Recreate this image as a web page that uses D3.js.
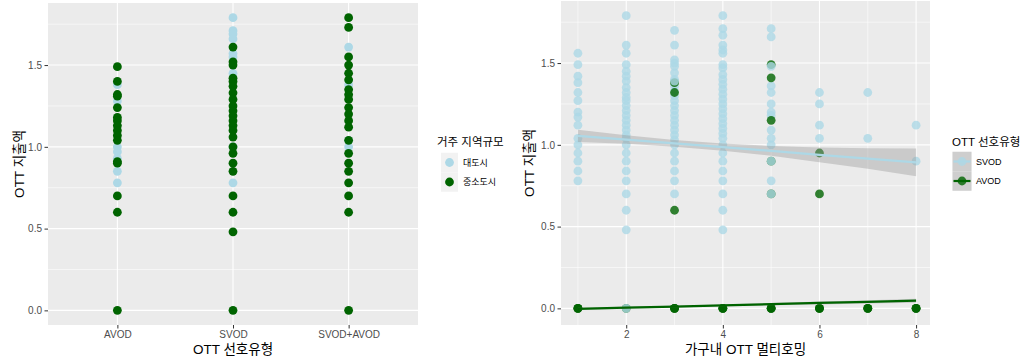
<!DOCTYPE html>
<html>
<head>
<meta charset="utf-8">
<script src="https://cdn.jsdelivr.net/npm/d3@7"></script>
<style>
  body { margin: 0; background: #fff; }
  svg { font-family: "Liberation Sans", Arial, "Noto Sans CJK KR", sans-serif; }
  .tick text { fill: #4d4d4d; font-size: 10px; }
  .tick line { stroke: #333; }
  .axis-title { font-size: 13.5px; fill: #000; }
  .legend-title { font-size: 11.5px; fill: #000; }
  .legend-label { font-size: 9px; fill: #000; }
</style>
</head>
<body>
<script>
// ---- left panel: OTT 선호유형 x 거주 지역규모 ----
const prefTypes = ["AVOD", "SVOD", "SVOD+AVOD"];
const regionGroups = ["대도시", "중소도시"];
const avodBig   = [1.38, 1.28, 1.0, 0.97, 0.93, 0.85, 0.78];
const avodSmall = [1.49, 1.40, 1.32, 1.31, 1.24, 1.18, 1.16, 1.13, 1.10, 1.07, 1.04, 0.91, 0.90, 0.70, 0.60, 0.0];
const svodBig   = [1.79, 1.71, 1.69, 1.66, 1.57, 1.55, 1.45, 1.0, 0.78];
const svodSmall = [1.61, 1.52, 1.50, 1.42, 1.40, 1.37, 1.33, 1.29, 1.25, 1.22, 1.19, 1.16, 1.13, 1.10, 1.06, 1.0, 0.96, 0.90, 0.85, 0.70, 0.60, 0.48, 0.0];
const bothBig   = [1.61, 1.38, 1.04, 1.0];
const bothSmall = [1.79, 1.73, 1.55, 1.50, 1.45, 1.41, 1.35, 1.32, 1.29, 1.24, 1.20, 1.16, 1.12, 1.04, 0.96, 0.90, 0.85, 0.78, 0.70, 0.60, 0.0];

// ---- right panel: 가구내 OTT 멀티호밍 (index + 1) ----
const svodByHoming = [
  [1.56, 1.49, 1.42, 1.38, 1.32, 1.27, 1.20, 1.17, 1.12, 1.04, 1.0, 0.95, 0.90, 0.84, 0.78],
  [1.79, 1.61, 1.56, 1.49, 1.45, 1.42, 1.39, 1.35, 1.32, 1.29, 1.27, 1.24, 1.21, 1.18, 1.15, 1.12, 1.09, 1.06, 1.04, 1.0, 0.95, 0.90, 0.84, 0.78, 0.70, 0.60, 0.48],
  [1.70, 1.61, 1.52, 1.50, 1.48, 1.44, 1.40, 1.36, 1.33, 1.30, 1.27, 1.24, 1.21, 1.18, 1.15, 1.12, 1.09, 1.06, 1.03, 1.0, 0.95, 0.90, 0.84, 0.78, 0.70],
  [1.79, 1.71, 1.67, 1.61, 1.58, 1.56, 1.49, 1.47, 1.43, 1.40, 1.37, 1.34, 1.31, 1.28, 1.25, 1.22, 1.19, 1.16, 1.13, 1.10, 1.07, 1.04, 1.0, 0.95, 0.90, 0.84, 0.78, 0.70, 0.60, 0.48],
  [1.71, 1.66, 1.36, 1.32, 1.25, 1.20, 1.18, 1.09, 1.04, 1.0, 0.78],
  [1.32, 1.25, 1.12, 1.04],
  [1.32, 1.04],
  [1.12, 0.90]
];
const avodByHoming = [
  [0.0, 0.0, 0.0], [0.0], [1.38, 1.32, 0.60, 0.0, 0.0, 0.0], [0.0, 0.0, 0.0],
  [1.49, 1.41, 1.15, 0.90, 0.70, 0.0, 0.0, 0.0], [0.95, 0.70, 0.0, 0.0, 0.0], [0.0, 0.0, 0.0], [0.0, 0.0, 0.0]
];
// SVOD rows that come after AVOD rows in the data (drawn on top)
const svodLateHoming = [2, 3, 5, 5, 5];
const svodLateValue  = [0.0, 1.39, 1.48, 0.90, 0.70];

// linear fits with 95% band
const fitX    = [1, 2, 3, 4, 5, 6, 7, 8];
const svodFit = [1.055, 1.032, 1.009, 0.986, 0.963, 0.939, 0.916, 0.893];
const svodLo  = [1.018, 1.006, 0.989, 0.964, 0.933, 0.894, 0.853, 0.808];
const svodHi  = [1.092, 1.058, 1.029, 1.008, 0.993, 0.984, 0.979, 0.978];
const avodFit = [-0.003, 0.004, 0.011, 0.018, 0.026, 0.033, 0.040, 0.047];
const avodLo  = [-0.010, -0.002, 0.006, 0.013, 0.019, 0.024, 0.030, 0.035];
const avodHi  = [0.004, 0.010, 0.016, 0.023, 0.033, 0.042, 0.050, 0.059];
const prefLegend = ["SVOD", "AVOD"];

const yTicks = [0, 0.5, 1.0, 1.5];
const yMinor = [0.25, 0.75, 1.25, 1.75];
const homingTicks = [2, 4, 6, 8];
const homingMinor = [1, 3, 5, 7];

const LIGHT = "#add8e6", DARK = "#006400";
const ALPHA = 0.8;
const W = 1023, H = 361;

const svg = d3.select("body").append("svg").attr("width", W).attr("height", H);

const yDomain = [-0.0895, 1.8795];

function panel(left, right, top, bottom, y) {
  const g = svg.append("g");
  g.append("rect").attr("x", left).attr("y", top)
    .attr("width", right - left).attr("height", bottom - top).attr("fill", "#ebebeb");
  g.selectAll(".ymin").data(yMinor).enter().append("line")
    .attr("x1", left).attr("x2", right).attr("y1", d => y(d)).attr("y2", d => y(d))
    .attr("stroke", "#fff").attr("stroke-width", 0.55);
  g.selectAll(".ymaj").data(yTicks).enter().append("line")
    .attr("x1", left).attr("x2", right).attr("y1", d => y(d)).attr("y2", d => y(d))
    .attr("stroke", "#fff").attr("stroke-width", 1.1);
  return g;
}

function yAxis(g, y, left) {
  const ax = g.append("g").attr("transform", `translate(${left},0)`)
    .call(d3.axisLeft(y).tickValues(yTicks).tickFormat(d3.format(".1f")).tickSize(3.5).tickPadding(2.5));
  ax.select(".domain").remove();
  ax.selectAll(".tick line").attr("stroke", "#333").attr("stroke-width", 1);
}

function yTitle(x, cy) {
  svg.append("text").attr("class", "axis-title")
    .attr("transform", `translate(${x},${cy}) rotate(-90)`)
    .attr("text-anchor", "middle").text("OTT 지출액");
}

// ---------- left ----------
{
  const L = 48, R = 418, T = 3, B = 325;
  const y = d3.scaleLinear().domain(yDomain).range([B, T]);
  const g = panel(L, R, T, B, y);
  const x = d3.scalePoint().domain(prefTypes).range([L, R]).padding(0.6);
  g.selectAll(".xmaj").data(prefTypes).enter().append("line")
    .attr("x1", d => x(d)).attr("x2", d => x(d)).attr("y1", T).attr("y2", B)
    .attr("stroke", "#fff").attr("stroke-width", 1.1);

  const big = [avodBig, svodBig, bothBig];
  const small = [avodSmall, svodSmall, bothSmall];
  const pts = [];
  big.forEach((arr, i) => arr.forEach(v => pts.push({ x: prefTypes[i], v, c: LIGHT })));
  small.forEach((arr, i) => arr.forEach(v => pts.push({ x: prefTypes[i], v, c: DARK })));
  g.selectAll(".pt").data(pts).enter().append("circle")
    .attr("cx", d => x(d.x)).attr("cy", d => y(d.v)).attr("r", 4.4).attr("fill", d => d.c);

  yAxis(g, y, L);
  const ax = g.append("g").attr("transform", `translate(0,${B})`)
    .call(d3.axisBottom(x).tickSize(3.5).tickPadding(2));
  ax.select(".domain").remove();
  ax.selectAll(".tick line").attr("stroke", "#333");

  yTitle(24, (T + B) / 2);
  svg.append("text").attr("class", "axis-title").attr("x", (L + R) / 2).attr("y", 354)
    .attr("text-anchor", "middle").text("OTT 선호유형");

  // legend
  svg.append("text").attr("class", "legend-title").attr("x", 437).attr("y", 146).text("거주 지역규모");
  regionGroups.forEach((name, i) => {
    const cy = 162.5 + i * 19.5;
    svg.append("rect").attr("x", 441).attr("y", cy - 9.75).attr("width", 17).attr("height", 19.5).attr("fill", "#f2f2f2");
    svg.append("circle").attr("cx", 449.5).attr("cy", cy).attr("r", 4.4).attr("fill", i ? DARK : LIGHT);
    svg.append("text").attr("class", "legend-label").attr("x", 463).attr("y", cy + 3.2).text(name);
  });
}

// ---------- right ----------
{
  const L = 561, R = 930, T = 1, B = 325;
  const y = d3.scaleLinear().domain(yDomain).range([323, 1]);
  const g = panel(L, R, T, B, y);
  const x = d3.scaleLinear().domain([0.65, 8.35]).range([L, R + 3]);
  g.selectAll(".xmin").data(homingMinor).enter().append("line")
    .attr("x1", d => x(d)).attr("x2", d => x(d)).attr("y1", T).attr("y2", B)
    .attr("stroke", "#fff").attr("stroke-width", 0.55);
  g.selectAll(".xmaj").data(homingTicks).enter().append("line")
    .attr("x1", d => x(d)).attr("x2", d => x(d)).attr("y1", T).attr("y2", B)
    .attr("stroke", "#fff").attr("stroke-width", 1.1);

  const pts = [];
  svodByHoming.forEach((arr, i) => arr.forEach(v => pts.push({ h: i + 1, v, c: LIGHT })));
  avodByHoming.forEach((arr, i) => arr.forEach(v => pts.push({ h: i + 1, v, c: DARK })));
  svodLateHoming.forEach((h, i) => pts.push({ h, v: svodLateValue[i], c: LIGHT }));
  g.selectAll(".pt").data(pts).enter().append("circle")
    .attr("cx", d => x(d.h)).attr("cy", d => y(d.v)).attr("r", 4.4)
    .attr("fill", d => d.c).attr("fill-opacity", ALPHA);

  const area = d3.area().x((d, i) => x(fitX[i])).y0(d => y(d[0])).y1(d => y(d[1]));
  const line = d3.line().x((d, i) => x(fitX[i])).y(d => y(d));
  const bands = [[svodLo, svodHi, svodFit, LIGHT], [avodLo, avodHi, avodFit, DARK]];
  bands.forEach(([lo, hi, fit, c]) => {
    g.append("path").attr("d", area(lo.map((v, i) => [v, hi[i]])))
      .attr("fill", "#999").attr("fill-opacity", 0.4);
    g.append("path").attr("d", line(fit)).attr("fill", "none")
      .attr("stroke", c).attr("stroke-width", 2.2);
  });

  const ya = g.append("g").attr("transform", `translate(${L},0)`)
    .call(d3.axisLeft(y).tickValues(yTicks).tickFormat(d3.format(".1f")).tickSize(3.5).tickPadding(2.5));
  ya.select(".domain").remove();
  const ax = g.append("g").attr("transform", `translate(0,${B})`)
    .call(d3.axisBottom(x).tickValues(homingTicks).tickSize(3.5).tickPadding(2));
  ax.select(".domain").remove();
  ax.selectAll(".tick line").attr("stroke", "#333");

  yTitle(534, (T + B) / 2);
  svg.append("text").attr("class", "axis-title").attr("x", (L + R) / 2).attr("y", 354)
    .attr("text-anchor", "middle").text("가구내 OTT 멀티호밍");

  // legend
  svg.append("text").attr("class", "legend-title").attr("x", 952).attr("y", 146).text("OTT 선호유형");
  prefLegend.forEach((name, i) => {
    const cy = 161.5 + i * 19.5;
    const c = i ? DARK : LIGHT;
    svg.append("rect").attr("x", 952.5).attr("y", cy - 9.75).attr("width", 19).attr("height", 19.5)
      .attr("fill", "#f2f2f2");
    svg.append("rect").attr("x", 952.5).attr("y", cy - 9.75).attr("width", 19).attr("height", 19.5)
      .attr("fill", "#999").attr("fill-opacity", 0.4);
    svg.append("circle").attr("cx", 962).attr("cy", cy).attr("r", 4.4).attr("fill", c).attr("fill-opacity", ALPHA);
    svg.append("line").attr("x1", 953.5).attr("x2", 970.5).attr("y1", cy).attr("y2", cy)
      .attr("stroke", c).attr("stroke-width", 2.2);
    svg.append("text").attr("class", "legend-label").attr("x", 976).attr("y", cy + 3.2).text(name);
  });
}
</script>
</body>
</html>
